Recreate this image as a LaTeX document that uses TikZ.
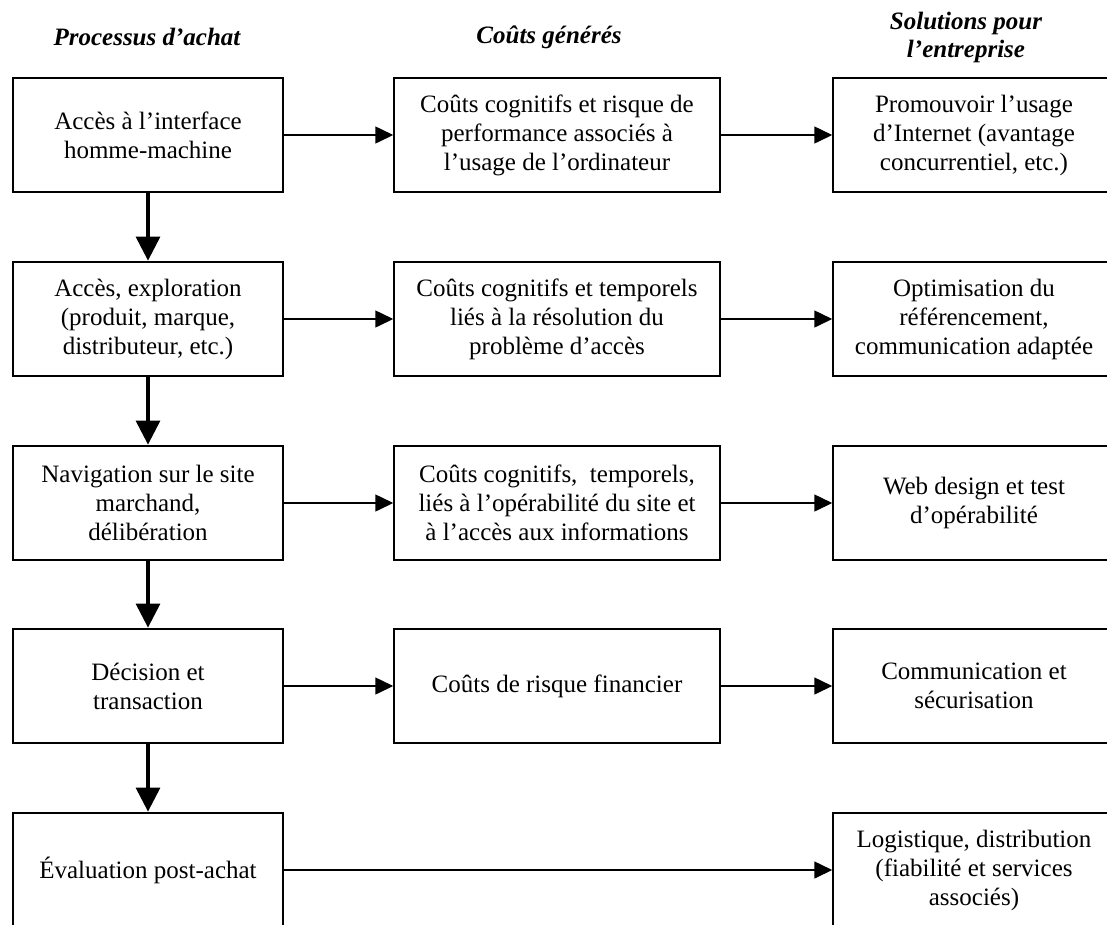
\documentclass[tikz,border=0pt]{standalone}
\usepackage{fontspec}
\setmainfont{Liberation Serif}
\usetikzlibrary{arrows.meta}
\tikzset{
  boxtext/.style={align=center, inner sep=0pt, font=\fontsize{25}{29}\selectfont},
  procbox/.style={boxtext, draw, line width=2.8pt, minimum width=270pt, minimum height=114pt},
  costbox/.style={boxtext, draw, line width=1.5pt, minimum width=326pt, minimum height=114pt},
  solbox/.style={boxtext, draw, line width=1.5pt, minimum width=282pt, minimum height=114pt},
  header/.style={align=center, inner sep=0pt, font=\fontsize{25}{28}\selectfont\bfseries\itshape},
  harrow/.style={line width=1.5pt, -{Triangle[length=18pt,width=17pt]}},
  varrow/.style={line width=3.2pt, -{Triangle[length=24pt,width=24pt]}}
}
\begin{document}
\begin{tikzpicture}[x=1pt,y=-1pt]
\useasboundingbox (0,0) rectangle (1107,924);
\clip (0,0) rectangle (1107,924);
\fill[white] (0,0) rectangle (1107,924);
% headers
\node[header] (h1) at (147,37) {Processus d’achat};
\node[header] (h2) at (549,37) {Coûts générés};
\node[header] (h3) at (966,37) {Solutions pour\\l’entreprise};
% left column
\node[procbox] (p1) at (148,135) {Accès à l’interface\\homme-machine};
\node[procbox] (p2) at (148,319) {Accès, exploration\\(produit, marque,\\distributeur, etc.)};
\node[procbox] (p3) at (148,503) {Navigation sur le site\\marchand,\\délibération};
\node[procbox] (p4) at (148,686) {Décision et\\transaction};
\node[procbox] (p5) at (148,870) {Évaluation post-achat};
% middle column
\node[costbox] (c1) at (557,135) {Coûts cognitifs et risque de\\performance associés à\\l’usage de l’ordinateur};
\node[costbox] (c2) at (557,319) {Coûts cognitifs et temporels\\liés à la résolution du\\problème d’accès};
\node[costbox] (c3) at (557,503) {Coûts cognitifs,\ \ temporels,\\liés à l’opérabilité du site et\\à l’accès aux informations};
\node[costbox] (c4) at (557,686) {Coûts de risque financier};
% right column
\node[solbox] (s1) at (974,135) {Promouvoir l’usage\\d’Internet (avantage\\concurrentiel, etc.)};
\node[solbox] (s2) at (974,319) {Optimisation du\\référencement,\\communication adaptée};
\node[solbox] (s3) at (974,503) {Web design et test\\d’opérabilité};
\node[solbox] (s4) at (974,686) {Communication et\\sécurisation};
\node[solbox] (s5) at (974,870) {Logistique, distribution\\(fiabilité et services\\associés)};
% vertical arrows
\draw[varrow] (p1.south) -- (p2.north);
\draw[varrow] (p2.south) -- (p3.north);
\draw[varrow] (p3.south) -- (p4.north);
\draw[varrow] (p4.south) -- (p5.north);
% horizontal arrows
\draw[harrow] (p1.east) -- (c1.west);
\draw[harrow] (c1.east) -- (s1.west);
\draw[harrow] (p2.east) -- (c2.west);
\draw[harrow] (c2.east) -- (s2.west);
\draw[harrow] (p3.east) -- (c3.west);
\draw[harrow] (c3.east) -- (s3.west);
\draw[harrow] (p4.east) -- (c4.west);
\draw[harrow] (c4.east) -- (s4.west);
\draw[harrow] (p5.east) -- (s5.west);
\end{tikzpicture}
\end{document}
